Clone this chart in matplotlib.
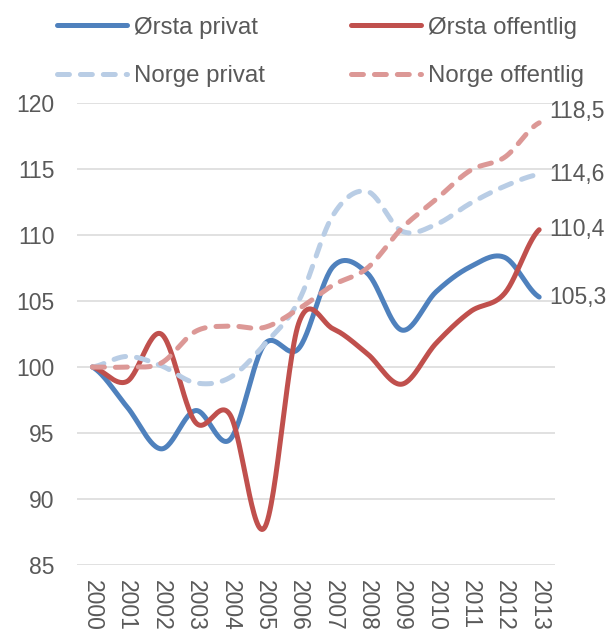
import numpy as np
import matplotlib
matplotlib.use("Agg")
import matplotlib.pyplot as plt

plt.rcParams['font.family'] = ['Liberation Sans', 'DejaVu Sans']
plt.rcParams['lines.scale_dashes'] = False

years = [str(y) for y in range(2000, 2014)]
orsta_privat = [100, 97.0, 93.8, 96.7, 94.5, 101.7, 101.4, 107.6, 107.1, 102.8, 105.7, 107.6, 108.3, 105.3]
orsta_offentlig = [100, 98.9, 102.5, 95.8, 96.4, 87.8, 103.3, 102.9, 101.0, 98.7, 101.8, 104.2, 105.6, 110.4]
norge_privat = [100, 100.8, 100.1, 98.8, 99.2, 101.7, 105.0, 111.5, 113.3, 110.3, 110.8, 112.4, 113.7, 114.6]
norge_offentlig = [100, 100.0, 100.3, 102.7, 103.1, 103.0, 104.4, 106.2, 107.5, 110.5, 112.7, 114.9, 115.9, 118.5]
end_labels = ["105,3", "110,4", "114,6", "118,5"]
series_names = ["Ørsta privat", "Ørsta offentlig", "Norge privat", "Norge offentlig"]
yticks = [85, 90, 95, 100, 105, 110, 115, 120]


def smooth(y, n=30):
    y = np.asarray(y, float)
    k = len(y)
    m = np.zeros(k)
    m[1:-1] = (y[2:] - y[:-2]) / 2
    m[0] = (y[1] - y[0]) / 2
    m[-1] = (y[-1] - y[-2]) / 2
    xs, ys = [], []
    for i in range(k - 1):
        t = np.linspace(0, 1, n, endpoint=(i == k - 2))
        h00 = 2 * t**3 - 3 * t**2 + 1
        h10 = t**3 - 2 * t**2 + t
        h01 = -2 * t**3 + 3 * t**2
        h11 = t**3 - t**2
        xs.append(i + t)
        ys.append(h00 * y[i] + h10 * m[i] + h01 * y[i + 1] + h11 * m[i + 1])
    return np.concatenate(xs), np.concatenate(ys)


fig = plt.figure(figsize=(6.09, 6.32), dpi=100)
ax = fig.add_axes([0.1259, 0.106, 0.7854, 0.731])

text_col = '#595959'
fs = 16.5
fs_leg = 17.3
dash = (0, (8.6, 7.9))
styles = [
    dict(color='#4F81BD', ls='-'),
    dict(color='#C0504D', ls='-'),
    dict(color='#B9CDE5', ls=dash),
    dict(color='#DC9896', ls=dash),
]
data = [orsta_privat, orsta_offentlig, norge_privat, norge_offentlig]
handles = []
for i, (vals, st, name) in enumerate(zip(data, styles, series_names)):
    xs, ys = smooth(vals)
    ln, = ax.plot(xs, ys, color=st['color'], linestyle=st['ls'], lw=3.6,
                  solid_capstyle='round', dash_capstyle='round', label=name, zorder=3 + i)
    handles.append(ln)

label_dy = [0, 0, 0, 8]
for vals, lab, dy in zip(data, end_labels, label_dy):
    ax.annotate(lab, xy=(len(vals) - 1, vals[-1]), xytext=(7, dy), textcoords='offset points',
                ha='left', va='center', fontsize=fs, color=text_col, annotation_clip=False)

ax.set_xlim(-0.46, len(years) - 1 + 0.46)
ax.set_ylim(85, 120)
ax.set_yticks(yticks)
ax.set_yticklabels([str(v) for v in yticks])
ax.set_xticks(range(len(years)))
ax.set_xticklabels(years, rotation=-90)
ax.tick_params(axis='both', length=0, labelsize=fs, labelcolor=text_col)
ax.tick_params(axis='y', pad=16)
ax.tick_params(axis='x', pad=11)
for s in ax.spines.values():
    s.set_visible(False)
ax.yaxis.grid(True, color='#D9D9D9', lw=1.1)
ax.set_axisbelow(True)

order = [0, 2, 1, 3]
fig.legend([handles[i] for i in order], [series_names[i] for i in order],
           loc='upper left', bbox_to_anchor=(0.0936, 0.9735), ncol=2, frameon=False,
           fontsize=fs_leg, labelcolor=text_col, borderpad=0, borderaxespad=0,
           handlelength=2.9, handletextpad=0.3, columnspacing=3.6, labelspacing=1.11)

fig.savefig('out.png', dpi=100)
